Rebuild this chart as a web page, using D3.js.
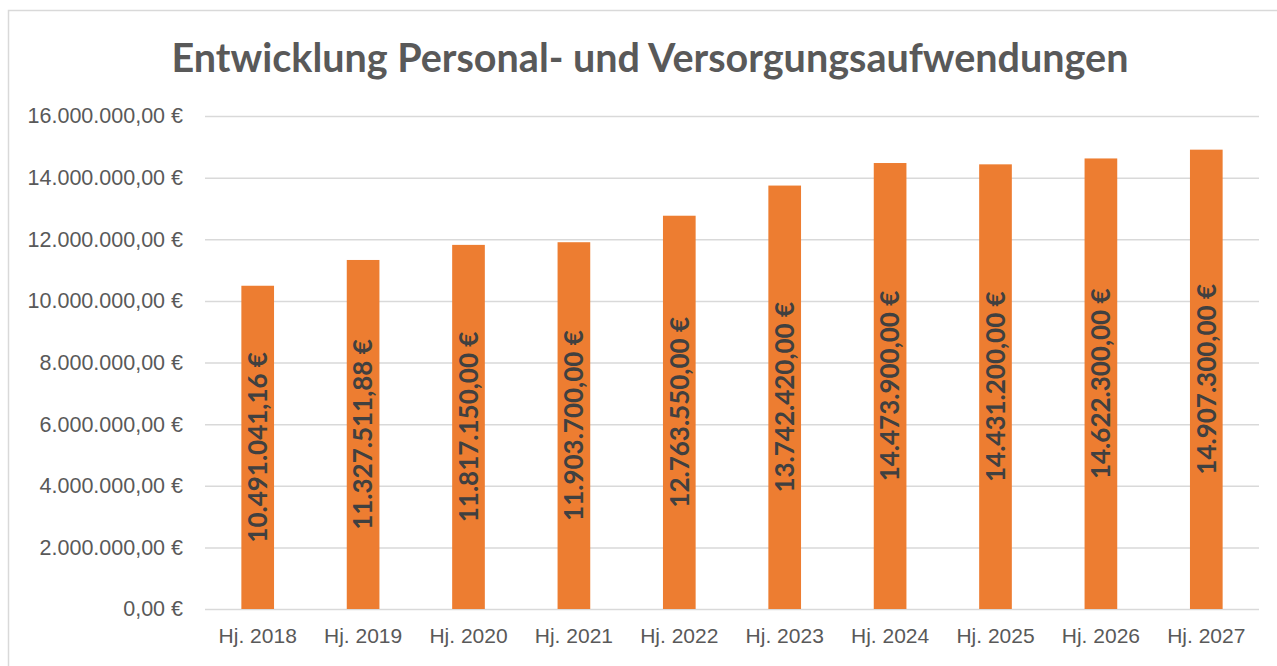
<!DOCTYPE html>
<html>
<head>
<meta charset="utf-8">
<script src="https://cdn.jsdelivr.net/npm/d3@7"></script>
<style>
  body { margin: 0; background: #fff; }
  svg { display: block; font-family: Lato, "Open Sans", sans-serif; }
</style>
</head>
<body>
<svg id="chart"></svg>
<script>
var WIDTH = 1277;
var HEIGHT = 666;

var title = 'Entwicklung Personal- und Versorgungsaufwendungen';
var years = ['Hj. 2018', 'Hj. 2019', 'Hj. 2020', 'Hj. 2021', 'Hj. 2022',
             'Hj. 2023', 'Hj. 2024', 'Hj. 2025', 'Hj. 2026', 'Hj. 2027'];
var amounts = [10491041.16, 11327511.88, 11817150.00, 11903700.00, 12763550.00,
               13742420.00, 14473900.00, 14431200.00, 14622300.00, 14907300.00];
var yTicks = [0, 2000000, 4000000, 6000000, 8000000, 10000000, 12000000, 14000000, 16000000];

var margin = {top: 116, right: 18, bottom: 57, left: 205};

var svg = d3.select('#chart')
    .attr('width', WIDTH)
    .attr('height', HEIGHT);

// chart frame
svg.append('rect')
    .attr('x', 8.5)
    .attr('y', 10.5)
    .attr('width', WIDTH + 20)
    .attr('height', HEIGHT + 20)
    .attr('fill', 'none')
    .attr('stroke', '#d9d9d9')
    .attr('stroke-width', 1.5);

var euro = function(v){
    var parts = v.toFixed(2).split('.');
    var intPart = parts[0].replace(/\B(?=(\d{3})+(?!\d))/g, '.');
    return intPart + ',' + parts[1] + ' €';
};

var xScale = d3.scaleBand()
    .domain(years)
    .range([margin.left, WIDTH - margin.right])
    .paddingInner(0.69)
    .paddingOuter(0.345);

var yScale = d3.scaleLinear()
    .domain([0, 16000000])
    .range([HEIGHT - margin.bottom, margin.top]);

// gridlines + y labels
var leftAxis = d3.axisLeft(yScale)
    .tickValues(yTicks)
    .tickSize(-(WIDTH - margin.right - margin.left))
    .tickPadding(22)
    .tickFormat(euro);

var gy = svg.append('g')
    .attr('transform', 'translate(' + margin.left + ',0)')
    .call(leftAxis);
gy.select('.domain').remove();
gy.selectAll('.tick line')
    .attr('stroke', '#d9d9d9')
    .attr('stroke-width', 1.5);
gy.selectAll('.tick text')
    .attr('fill', '#595959')
    .style('font-size', '21.5px');

// bars
svg.append('g').selectAll('rect')
    .data(amounts)
    .enter()
    .append('rect')
    .attr('x', function(d, i){ return xScale(years[i]); })
    .attr('y', function(d){ return yScale(d); })
    .attr('width', xScale.bandwidth())
    .attr('height', function(d){ return yScale(0) - yScale(d); })
    .attr('fill', '#ed7d31');

// value labels, rotated, centered in bar
svg.append('g').selectAll('text')
    .data(amounts)
    .enter()
    .append('text')
    .attr('transform', function(d, i){
        var cx = xScale(years[i]) + xScale.bandwidth() / 2;
        var cy = (yScale(d) + yScale(0)) / 2;
        return 'translate(' + cx + ',' + cy + ') rotate(-90)';
    })
    .attr('text-anchor', 'middle')
    .attr('dy', '0.36em')
    .attr('fill', '#404040')
    .style('font-size', '26px')
    .style('font-weight', 'bold')
    .text(function(d){ return euro(d); });

// x labels
var bottomAxis = d3.axisBottom(xScale).tickSize(0).tickPadding(19);
var gx = svg.append('g')
    .attr('transform', 'translate(0,' + (HEIGHT - margin.bottom) + ')')
    .call(bottomAxis);
gx.select('.domain').remove();
gx.selectAll('.tick text')
    .attr('fill', '#595959')
    .style('font-size', '21px');

// title
svg.append('text')
    .attr('x', 650)
    .attr('y', 72)
    .attr('text-anchor', 'middle')
    .attr('fill', '#595959')
    .style('font-size', '39.5px')
    .style('font-weight', 'bold')
    .text(title);
</script>
</body>
</html>
